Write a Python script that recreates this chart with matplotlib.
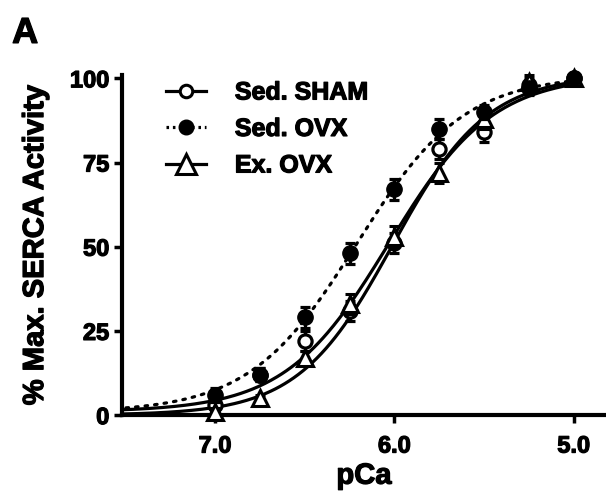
import numpy as np
import matplotlib
matplotlib.use("Agg")
import matplotlib.pyplot as plt
import matplotlib.patheffects as pe

plt.rcParams['font.family'] = ['Liberation Sans', 'DejaVu Sans']
plt.rcParams['font.weight'] = 'bold'

# measured points
pca = [7.0, 6.75, 6.5, 6.25, 6.0, 5.75, 5.5, 5.25, 5.0]
sham = [3, 12, 22, 31, 51, 79, 84, 98, 100]
sham_err = [2, 2, 3, 3, 3, 3, 3, 2, 1]
ovx = [6, 12, 29, 48, 67, 85, 90, 97, 100]
ovx_err = [2, 2, 3, 3, 3, 3, 2, 2, 1]
ex = [1, 5, 17, 33, 53, 72, 88, 99, 100]
ex_err = [1, 1, 2, 3, 3, 3, 3, 2, 1]

# Hill fit parameters (bottom, top, pCa50, nH)
fit_sham = (1.0, 101, 6.03, 1.5)
fit_ovx = (0.8, 101, 6.21, 1.45)
fit_ex = (0.0, 101, 6.01, 1.65)


def hill(x, bottom, top, p50, nh):
    return bottom + (top - bottom) / (1 + 10 ** (nh * (x - p50)))


xs = np.linspace(7.55, 5.0, 300)
heavy = [pe.withStroke(linewidth=0.9, foreground="black")]

fig = plt.figure(figsize=(6.06, 4.93), dpi=100)
ax = fig.add_axes([0.201, 0.158, 0.799, 0.69])

lw = 2.3
# curves
ax.plot(xs, hill(xs, *fit_sham), color="black", lw=lw)
ax.plot(xs, hill(xs, *fit_ovx), color="black", lw=lw, linestyle=(0, (0.8, 2.2)),
        dash_capstyle="round")
ax.plot(xs, hill(xs, *fit_ex), color="black", lw=lw)

# points with error bars
ax.errorbar(pca, sham, yerr=sham_err, fmt="o", color="black", mfc="white", mew=2.3, ms=9.5,
            capsize=3.6, elinewidth=2.3, capthick=2.3, clip_on=False, zorder=3)
ax.errorbar(pca, ex, yerr=ex_err, fmt="^", color="black", mfc="white", mew=2.2, ms=11,
            capsize=3.6, elinewidth=2.3, capthick=2.3, clip_on=False, zorder=4)
ax.errorbar(pca, ovx, yerr=ovx_err, fmt="o", color="black", ms=11, capsize=3.6,
            elinewidth=2.3, capthick=2.3, clip_on=False, zorder=5)

# legend handles
h1, = ax.plot([], [], "-o", color="black", mfc="white", mew=2.2, ms=9, lw=lw)
h2, = ax.plot([], [], "o", color="black", ms=10.5, lw=lw, linestyle=(0, (0.8, 1.2)))
h3, = ax.plot([], [], "-^", color="black", mfc="white", mew=2.2, ms=14, lw=lw)
leg = ax.legend([h1, h2, h3], ["Sed. SHAM", "Sed. OVX", "Ex. OVX"], loc="upper left",
                bbox_to_anchor=(0.045, 1.05), frameon=False, handlelength=1.6,
                handletextpad=1.15, labelspacing=0.5, prop={'weight': 'bold', 'size': 18})
for t in leg.get_texts():
    t.set_path_effects(heavy)

ax.set_xlim(7.52, 4.82)
ax.set_ylim(0, 101)
ax.set_xticks([7.0, 6.0, 5.0])
ax.set_xticklabels(["7.0", "6.0", "5.0"])
ax.set_yticks([0, 25, 50, 75, 100])

for s in ["top", "right"]:
    ax.spines[s].set_visible(False)
for s in ["left", "bottom"]:
    ax.spines[s].set_linewidth(3)
ax.tick_params(width=2.5, length=6, labelsize=17)
ax.tick_params(axis="x", pad=8)
ax.tick_params(axis="y", pad=3)
for lab in ax.get_xticklabels() + ax.get_yticklabels():
    lab.set_fontweight("bold")
    lab.set_path_effects(heavy)

ax.set_xlabel("pCa", fontsize=21, fontweight="bold", labelpad=3, path_effects=heavy)
ax.set_ylabel("% Max. SERCA Activity", fontsize=21, fontweight="bold", labelpad=15,
              path_effects=heavy)

fig.text(0.02, 0.913, "A", fontsize=26, fontweight="bold", path_effects=heavy)

fig.savefig("out.png", dpi=100)
